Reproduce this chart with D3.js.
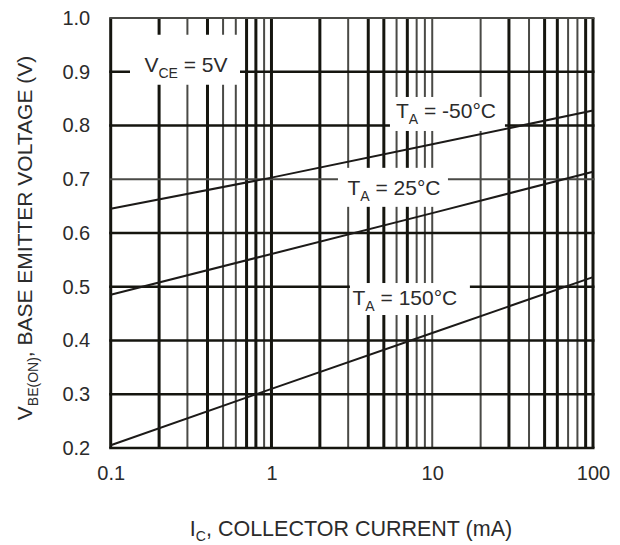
<!DOCTYPE html>
<html>
<head>
<meta charset="utf-8">
<script src="https://cdn.jsdelivr.net/npm/d3@7"></script>
<style>
  body { margin: 0; background: #fff; }
  svg { display: block; font-family: "Liberation Sans", Arial, sans-serif; }
</style>
</head>
<body>
<svg id="chart"></svg>
<script>
// collector current (mA) and V_BE(on)
const currents = [0.1, 1, 10, 100]
const vbeMinus50 = [0.645, 0.703, 0.765, 0.828]
const vbe25 = [0.485, 0.561, 0.637, 0.714]
const vbe150 = [0.205, 0.310, 0.414, 0.518]

const xTickValues = [0.1, 1, 10, 100]
const xTickLabels = ['0.1', '1', '10', '100']
const yTickValues = [1.0, 0.9, 0.8, 0.7, 0.6, 0.5, 0.4, 0.3, 0.2]

// grid lines that came out heavier in the printed sheet
const heavyX = [0.1, 0.2, 0.4, 0.7, 0.8, 1, 2, 4, 5, 7, 30, 50, 60, 90, 100]
const heavyY = [0.2, 0.3, 0.4, 0.5, 0.6, 0.8, 0.9]

const width = 620, height = 545
const margin = {top: 18, right: 27, bottom: 97, left: 110.7}

let svg = d3.select('#chart')
            .attr('width', width)
            .attr('height', height)

let x = d3.scaleLog()
          .domain([0.1, 100])
          .range([margin.left, width - margin.right])
let y = d3.scaleLinear()
          .domain([0.2, 1.0])
          .range([height - margin.bottom, margin.top])

// all 1..9 lines of every decade
let xGrid = []
;[0.1, 1, 10].forEach((d) => {
    for (let k = 1; k <= 9; k++) xGrid.push(+(d * k).toPrecision(3))
})
xGrid.push(100)

let isHeavy = (list, v) => list.some((h) => Math.abs(h - v) < 1e-9)

let grid = svg.append('g')
grid.selectAll('.vline')
    .data(xGrid)
    .enter()
    .append('line')
    .attr('x1', (d) => x(d)).attr('x2', (d) => x(d))
    .attr('y1', y(1.0)).attr('y2', y(0.2))
    .attr('stroke', (d) => isHeavy(heavyX, d) ? '#15150f' : '#4a4a46')
    .attr('stroke-width', (d) => isHeavy(heavyX, d) ? 3 : 2)

grid.selectAll('.hline')
    .data(yTickValues)
    .enter()
    .append('line')
    .attr('y1', (d) => y(d)).attr('y2', (d) => y(d))
    .attr('x1', x(0.1) - 1.5).attr('x2', x(100) + 1.5)
    .attr('stroke', (d) => isHeavy(heavyY, d) ? '#15150f' : '#4a4a46')
    .attr('stroke-width', (d) => isHeavy(heavyY, d) ? 2.5 : 2)

// axes, labels only
let xAxis = d3.axisBottom(x)
              .tickValues(xTickValues)
              .tickFormat((d, i) => xTickLabels[i])
              .tickSize(0)
              .tickPadding(18)
let yAxis = d3.axisLeft(y)
              .tickValues(yTickValues)
              .tickFormat(d3.format('.1f'))
              .tickSize(0)
              .tickPadding(20.5)

svg.append('g')
   .attr('transform', 'translate(0,' + (height - margin.bottom) + ')')
   .call(xAxis)
   .call((g) => g.select('.domain').remove())
svg.append('g')
   .attr('transform', 'translate(' + margin.left + ',0)')
   .call(yAxis)
   .call((g) => g.select('.domain').remove())

svg.selectAll('.tick text')
   .attr('font-size', '20px')
   .attr('font-family', '"Liberation Sans", Arial, sans-serif')
   .attr('fill', '#2b2b2b')

// curve labels sit in white boxes that knock out the grid
const labels = [
    {main: 'V', sub: 'CE', rest: ' = 5V', xv: 0.294, yv: 0.9, box: [-56, -37, 54, 13]},
    {main: 'T', sub: 'A', rest: ' = -50°C', xv: 12.17, yv: 0.814, box: [-56, -21, 59, 13]},
    {main: 'T', sub: 'A', rest: ' = 25°C', xv: 5.78, yv: 0.671, box: [-56, -27, 54, 12]},
    {main: 'T', sub: 'A', rest: ' = 150°C', xv: 6.76, yv: 0.466, box: [-55, -22, 65, 10]}
]

svg.selectAll('.labelbox')
   .data(labels)
   .enter()
   .append('rect')
   .attr('x', (d) => x(d.xv) + d.box[0])
   .attr('y', (d) => y(d.yv) + d.box[1])
   .attr('width', (d) => d.box[2] - d.box[0])
   .attr('height', (d) => d.box[3] - d.box[1])
   .attr('fill', '#fff')

// the three temperature curves
let series = [vbeMinus50, vbe25, vbe150]
let line = d3.line()
             .x((d, i) => x(currents[i]))
             .y((d) => y(d))

svg.selectAll('.curve')
   .data(series)
   .enter()
   .append('path')
   .attr('d', (d) => line(d))
   .attr('fill', 'none')
   .attr('stroke', '#1c1a18')
   .attr('stroke-width', 2)

let labelText = svg.selectAll('.labeltext')
   .data(labels)
   .enter()
   .append('text')
   .attr('x', (d) => x(d.xv))
   .attr('y', (d) => y(d.yv))
   .attr('text-anchor', 'middle')
   .attr('font-size', '21px')
   .attr('fill', '#2b2b2b')
labelText.append('tspan').text((d) => d.main)
labelText.append('tspan').attr('dy', 6).attr('font-size', '14px').text((d) => d.sub)
labelText.append('tspan').attr('dy', -6).text((d) => d.rest)

// axis titles
let yTitle = svg.append('text')
                .attr('transform', 'translate(32,238) rotate(-90)')
                .attr('text-anchor', 'middle')
                .attr('font-size', '21px')
                .attr('fill', '#2b2b2b')
yTitle.append('tspan').text('V')
yTitle.append('tspan').attr('dy', 6).attr('font-size', '14px').text('BE(ON)')
yTitle.append('tspan').attr('dy', -6).text(', BASE EMITTER VOLTAGE (V)')

let xTitle = svg.append('text')
                .attr('x', 351)
                .attr('y', 536)
                .attr('text-anchor', 'middle')
                .attr('font-size', '21.5px')
                .attr('fill', '#2b2b2b')
xTitle.append('tspan').text('I')
xTitle.append('tspan').attr('dy', 5).attr('font-size', '14px').text('C')
xTitle.append('tspan').attr('dy', -5).text(', COLLECTOR CURRENT (mA)')
</script>
</body>
</html>
